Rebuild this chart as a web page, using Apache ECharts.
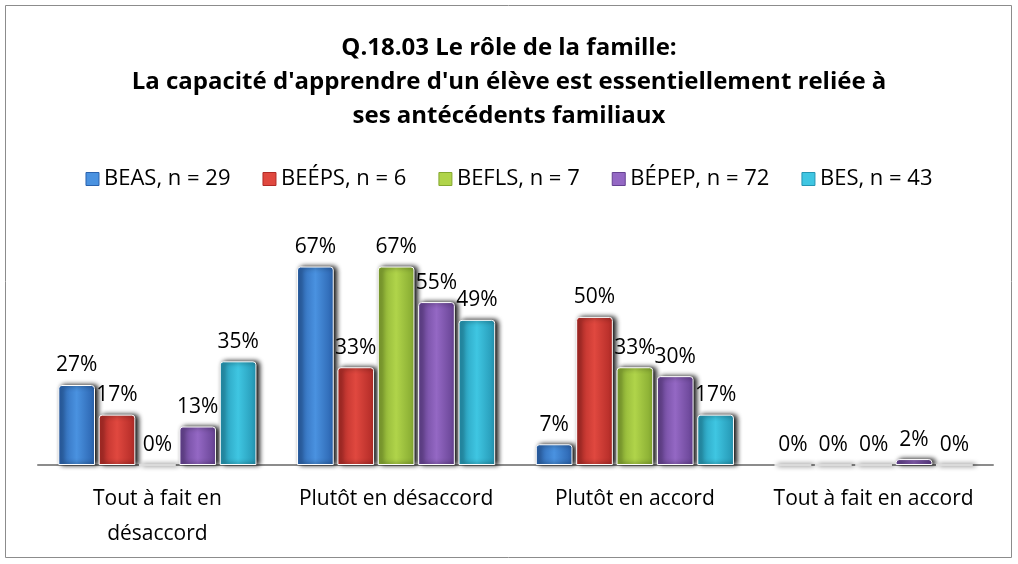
<!DOCTYPE html>
<html>
<head>
<meta charset="utf-8">
<script src="https://cdn.jsdelivr.net/npm/echarts@6/dist/echarts.min.js"></script>
<style>
html,body{margin:0;padding:0;background:#fff;}
#chart{width:1018px;height:564px;}
</style>
</head>
<body>
<div id="chart"></div>
<script>
var categories = ['Tout à fait en\ndésaccord', 'Plutôt en désaccord', 'Plutôt en accord', 'Tout à fait en accord'];
var seriesNames = ['BEAS, n = 29', 'BEÉPS, n = 6', 'BEFLS, n = 7', 'BÉPEP, n = 72', 'BES, n = 43'];
var beas  = [0.27, 0.67, 0.07, 0];
var beeps = [0.17, 0.33, 0.50, 0];
var befls = [0, 0.67, 0.33, 0];
var bepep = [0.13, 0.55, 0.30, 0.02];
var bes   = [0.35, 0.49, 0.17, 0];
var values = [beas, beeps, befls, bepep, bes];
// couleurs claires / foncées pour le dégradé
var light = ['#4a92e0', '#e0483f', '#b0d44a', '#9468c4', '#3fc6e2'];
var dark  = ['#2a62ad', '#b02a26', '#84a830', '#654292', '#2495b2'];

var chart = echarts.init(document.getElementById('chart'));
var font = '"Open Sans", "Noto Sans", sans-serif';

var series = [];
for (var i = 0; i < seriesNames.length; i++) {
  series.push({
    name: seriesNames[i],
    type: 'bar',
    data: values[i],
    barGap: '10%',
    barCategoryGap: '17%',
    itemStyle: {
      color: new echarts.graphic.LinearGradient(0, 0, 1, 0, [
        {offset: 0, color: dark[i]},
        {offset: 0.5, color: light[i]},
        {offset: 1, color: dark[i]}
      ]),
      borderColor: '#ffffff',
      borderWidth: 1,
      borderRadius: [3, 3, 0, 0],
      shadowColor: 'rgba(0,0,0,1)',
      shadowBlur: 5,
      shadowOffsetX: 3,
      shadowOffsetY: 0
    },
    label: {
      show: true,
      position: 'top',
      distance: 9,
      color: '#000',
      fontFamily: font,
      fontSize: 21,
      formatter: function (p) { return Math.round(p.value * 100) + '%'; }
    }
  });
}

var option = {
  backgroundColor: '#fff',
  animation: false,
  title: {
    text: "Q.18.03 Le rôle de la famille:\nLa capacité d'apprendre d'un élève est essentiellement reliée à\nses antécédents familiaux",
    left: 'center',
    top: 26,
    textStyle: {fontFamily: font, fontSize: 24, fontWeight: 'bold', color: '#000', lineHeight: 34}
  },
  legend: {
    top: 163,
    left: 'center',
    itemWidth: 13,
    itemHeight: 13,
    itemGap: 32,
    textStyle: {fontFamily: font, fontSize: 22, color: '#000'},
    data: seriesNames.map(function (n, i) {
      return {name: n, icon: 'rect', itemStyle: {color: light[i], borderColor: dark[i], borderWidth: 1}};
    })
  },
  grid: {left: 38, right: 25, top: 228, bottom: 99},
  xAxis: {
    type: 'category',
    data: categories,
    axisLine: {lineStyle: {color: '#8c8c8c', width: 2}},
    axisTick: {show: false},
    axisLabel: {interval: 0, hideOverlap: false, fontFamily: font, fontSize: 21, color: '#000', margin: 17, lineHeight: 35}
  },
  yAxis: {
    type: 'value',
    min: 0,
    max: 0.8,
    show: false
  },
  graphic: [{
    type: 'rect',
    shape: {x: 5.5, y: 5.5, width: 1006, height: 552},
    style: {fill: 'none', stroke: '#8c8c8c', lineWidth: 1},
    silent: true
  }],
  series: series
};
chart.setOption(option);
</script>
</body>
</html>
